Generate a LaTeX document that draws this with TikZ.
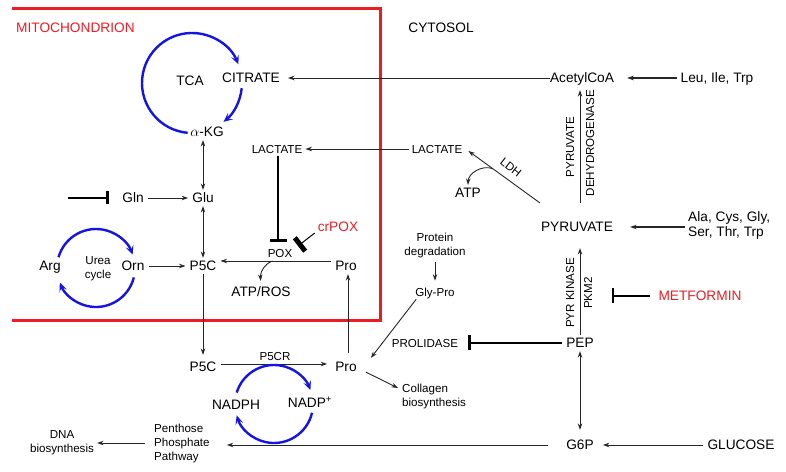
\documentclass[tikz,border=0pt]{standalone}
\usepackage{fontspec}
\setmainfont{Liberation Sans}
\usetikzlibrary{arrows.meta,calc}
\definecolor{mred}{RGB}{237,28,36}
\definecolor{cycblue}{RGB}{20,20,230}
\tikzset{
 big/.style={font=\fontsize{13.7}{16}\selectfont, inner xsep=4pt, inner ysep=3pt, text height=9.8pt, text depth=0pt},
 sm/.style={font=\fontsize{11.6}{14}\selectfont, inner xsep=3pt, inner ysep=3pt, text height=8.3pt, text depth=0pt},
 bigml/.style={font=\fontsize{13.7}{15}\selectfont, inner sep=3pt},
 smml/.style={font=\fontsize{11.6}{14}\selectfont, inner sep=3pt},
 conn/.style={draw=black!85, line width=0.9pt, -{Stealth[length=6.5pt,width=4.5pt]}},
 dconn/.style={draw=black!85, line width=0.9pt, {Stealth[length=6.5pt,width=4.5pt]}-{Stealth[length=6.5pt,width=4.5pt]}},
 inhib/.style={draw=black, line width=1.1pt, -{Bar[width=16pt,line width=3pt]}},
 cyc/.style={draw=cycblue, line width=2.4pt, -{Stealth[length=9pt,width=8pt,inset=4pt]}},
}
\begin{document}
\begin{tikzpicture}[x=1pt,y=1pt]
\useasboundingbox (0,0) rectangle (786,471);
% mitochondrion frame
\draw[mred, line width=3pt] (12,462) -- (380,462) -- (380,150) -- (12,150);
\node[big, text=mred, anchor=west, inner xsep=0pt] (mito) at (16,443) {MITOCHONDRION};
\node[big] (cyto) at (441,443) {CYTOSOL};

% TCA cycle
\node[big] (tca) at (190,390) {TCA};
\node[big] (cit) at (251,393) {CITRATE};
\node[big] (akg) at (207,339) {$\alpha$-KG};
\draw[cyc] (192,388) ++(265:50) arc[start angle=265, end angle=22, radius=50];
\draw[cyc] (192,388) ++(-6:50) arc[start angle=-6, end angle=-51, radius=50];

% AcetylCoA
\node[big] (acoa) at (582,393) {AcetylCoA};
\node[big] (leu) at (717,393) {Leu, Ile, Trp};
\draw[conn, shorten >=4pt, shorten <=-4pt] (acoa.west) -- (cit.east);
\draw[conn, line width=1.3pt, shorten >=9pt] (leu.west) -- (acoa.east);

% Pyruvate
\node[big] (pyr) at (577,244) {PYRUVATE};
\draw[conn, shorten <=16pt, shorten >=4pt] ([xshift=3pt]pyr.north) -- ([xshift=-2pt]acoa.south);
\node[sm, rotate=90] (pdh1) at (570,324) {PYRUVATE};
\node[sm, rotate=90] (pdh2) at (590,328) {DEHYDROGENASE};

% Lactate
\node[sm] (lacc) at (437,322) {LACTATE};
\node[sm] (lacm) at (277,322) {LACTATE};
\draw[conn] (lacc.west) -- (lacm.east);
\draw[conn] ([shift={(3,16)}]pyr.north west) -- coordinate[pos=0.66] (atpfrom) ([shift={(3,-2)}]lacc.east);
\node[sm, rotate=-38] (ldh) at (511,304) {LDH};
\node[big] (atp) at (468,278) {ATP};
\draw[conn] (atpfrom) to[out=160,in=88] (atp.north);

% POX reaction
\node[big] (p5cm) at (203,205) {P5C};
\node[big] (prom) at (346,205) {Pro};
\draw[conn] ([yshift=5pt]prom.west) -- coordinate[pos=0.53] (poxmid) ([yshift=5pt]p5cm.east);
\node[sm] (pox) at (280,218) {POX};
\node[big] (atpros) at (261,179) {ATP/ROS};
\draw[conn, shorten >=3pt] (poxmid) to[out=200,in=95] (atpros.north);
\coordinate (poxbar) at (278,229);
\draw[inhib, -{Bar[width=17pt,line width=3pt]}] ([xshift=1pt]lacm.south) -- (poxbar);
\node[big, text=mred] (crpox) at (338,244) {crPOX};
\coordinate (crbar) at (298,225);
\draw[inhib, line width=1pt, -{Bar[width=17pt,line width=5pt]}] ([shift={(1,2)}]crpox.south west) -- (crbar);

% Glu / Gln
\node[big] (glu) at (203,273) {Glu};
\node[big] (gln) at (133,273) {Gln};
\draw[dconn] (glu.north) -- (glu.north |- akg.south);
\draw[dconn] (glu.south) -- (p5cm.north);
\draw[conn] (gln.east) -- (glu.west);
\coordinate (glnstart) at (68,273);
\draw[inhib, -{Bar[width=13pt,line width=3pt]}] (glnstart) -- ([xshift=-9pt]gln.west);

% Urea cycle
\node[big] (arg) at (50,205) {Arg};
\node[big] (orn) at (133,205) {Orn};
\node[smml, align=center] (urea) at (98,202) {Urea\\cycle};
\draw[cyc] (96,203) ++(164:39) arc[start angle=164, end angle=20, radius=39];
\draw[cyc] (96,203) ++(-14:39) arc[start angle=-14, end angle=-158, radius=39];
\draw[conn] (orn.east) -- (p5cm.west);

% P5C -> Pro (cytosol)
\node[big] (p5cb) at (203,104) {P5C};
\node[big] (prob) at (346,104) {Pro};
\draw[conn, shorten >=4pt] (p5cm.south) -- (p5cb.north);
\draw[conn, shorten >=4pt] ([yshift=3pt]p5cb.east) -- ([yshift=3pt]prob.west);
\node[sm] (p5cr) at (275,115) {P5CR};
\draw[conn, shorten <=6pt] ([xshift=2pt]prob.north) -- ([xshift=2pt]prom.south);

% NADPH cycle
\node[big] (nadph) at (236,66) {NADPH};
\node[big] (nadp) at (310,68) {NADP\textsuperscript{+}};
\draw[cyc] (274,67) ++(163:39) arc[start angle=163, end angle=21, radius=39];
\draw[cyc] (274,67) ++(-13:39) arc[start angle=-13, end angle=-163, radius=39];

% Collagen
\node[smml, align=left, anchor=west] (coll) at (399,74.5) {Collagen\\biosynthesis};
\draw[conn] ([shift={(5,3)}]prob.south east) -- ([shift={(-1,8.5)}]coll.west);

% Protein degradation
\node[smml, align=center] (protdeg) at (435,225) {Protein\\degradation};
\node[sm] (glypro) at (435,179) {Gly-Pro};
\draw[conn, shorten >=4pt] (protdeg.south) -- (glypro.north);
\draw[conn] ([shift={(4,0)}]glypro.south west) -- ([shift={(10,1)}]prob.north east);

% PEP
\node[big] (pep) at (580,128) {PEP};
\draw[conn, shorten >=13pt] (pep.north) -- ([xshift=3pt]pyr.south);
\node[sm, rotate=90] (pyrk) at (570,178) {PYR KINASE};
\node[sm, rotate=90] (pkm2) at (588,178) {PKM2};
\node[big, text=mred] (met) at (700,175) {METFORMIN};
\coordinate (metbar) at (612,175);
\draw[inhib, -{Bar[width=15pt,line width=2pt]}, shorten <=4pt] (met.west) -- (metbar);
\node[sm] (prol) at (425,128) {PROLIDASE};
\draw[inhib, line width=1.3pt, -{Bar[width=15pt,line width=3pt]}] (pep.west) -- ([xshift=7pt]prol.east);
\node[bigml, align=left, anchor=west] (ala) at (685,245.5) {Ala, Cys, Gly,\\Ser, Thr, Trp};
\draw[conn, line width=1.3pt, shorten >=13pt] (ala.west |- pyr.east) -- (pyr.east);

% Glucose
\node[big] (g6p) at (580,26) {G6P};
\node[big] (glc) at (741,26) {GLUCOSE};
\draw[conn, shorten >=5pt] (glc.west) -- (g6p.east);
\draw[dconn, shorten >=7pt] (pep.south) -- (g6p.north);
\node[smml, align=left, anchor=west] (ppp) at (151,28) {Penthose\\Phosphate\\Pathway};
\draw[conn, shorten <=14pt, shorten >=14pt] (g6p.west) -- (g6p.west -| ppp.east);
\node[smml, align=center] (dna) at (62,28) {DNA\\biosynthesis};
\draw[conn, shorten <=6pt] (ppp.west) -- (dna.east);
\end{tikzpicture}
\end{document}
